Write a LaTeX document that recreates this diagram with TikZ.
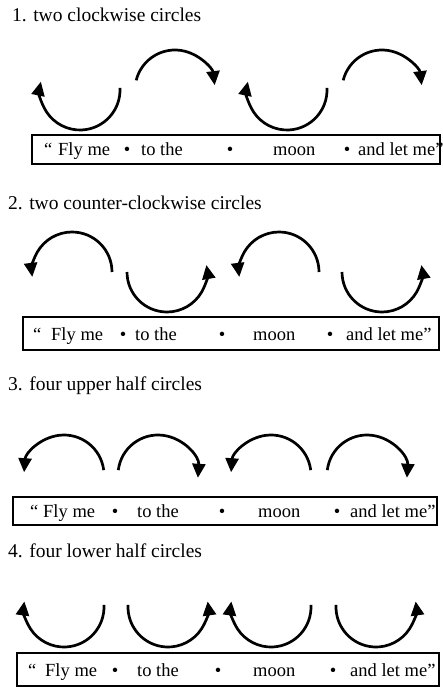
\documentclass[tikz,border=0pt]{standalone}
\usepackage{fontspec}
\setmainfont{Liberation Serif}
\usetikzlibrary{arrows.meta}
\begin{document}
\begin{tikzpicture}[x=1pt,y=-1pt,
  arw/.style={line width=2.7pt, -{Triangle[length=14pt,width=13pt]}},
  frame/.style={draw, line width=1.1pt},
  ttl/.style={anchor=base west, inner sep=0pt, font=\fontsize{19.5}{23}\selectfont},
  word/.style={anchor=base west, inner sep=0pt, font=\fontsize{18.5}{22}\selectfont},
  dot/.style={anchor=base, inner sep=0pt, font=\fontsize{18.5}{22}\selectfont}]
\useasboundingbox (0,0) rectangle (442,687);
\newcommand\myarc[4]{\draw[arw] ([shift={(#3:40)}]#1,#2) arc[start angle=#3,end angle=#4,radius=40];}

% ---------- panel 1
\node[ttl] (t1) at (12,22) {1. two clockwise circles};
\myarc{80}{90}{-3}{192}
\myarc{175}{90}{194}{353}
\myarc{287}{90}{-3}{192}
\myarc{382}{90}{194}{353}
\draw[frame] (32,135) rectangle (440,164);
\node[word] (a1) at (44,156) {“};
\node[word] (b1) at (58,156) {Fly me};
\node[dot]  (c1) at (127,156) {•};
\node[word] (d1) at (141,156) {to the};
\node[dot]  (e1) at (230,156) {•};
\node[word] (f1) at (273,156) {moon};
\node[dot]  (g1) at (347,156) {•};
\node[word] (h1) at (358,156) {and let me”};

% ---------- panel 2
\node[ttl] (t2) at (8,209) {2. two counter-clockwise circles};
\myarc{72}{272}{360}{173}
\myarc{167}{272}{180}{-10}
\myarc{279}{272}{360}{173}
\myarc{382}{272}{180}{-10}
\draw[frame] (23,317) rectangle (439,350);
\node[word] (a2) at (33,340) {“};
\node[word] (b2) at (51,340) {Fly me};
\node[dot]  (c2) at (123,340) {•};
\node[word] (d2) at (135,340) {to the};
\node[dot]  (e2) at (222,340) {•};
\node[word] (f2) at (253,340) {moon};
\node[dot]  (g2) at (330,340) {•};
\node[word] (h2) at (346,340) {and let me”};

% ---------- panel 3
\node[ttl] (t3) at (8,390) {3. four upper half circles};
\myarc{64}{475}{353}{184}
\myarc{158}{475}{187}{364}
\myarc{271}{475}{353}{184}
\myarc{367}{475}{187}{364}
\draw[frame] (13,497) rectangle (437,525);
\node[word] (a3) at (30,517) {“};
\node[word] (b3) at (43,517) {Fly me};
\node[dot]  (c3) at (115,517) {•};
\node[word] (d3) at (137,517) {to the};
\node[dot]  (e3) at (222,517) {•};
\node[word] (f3) at (258,517) {moon};
\node[dot]  (g3) at (337,517) {•};
\node[word] (h3) at (350,517) {and let me”};

% ---------- panel 4
\node[ttl] (t4) at (8,557) {4. four lower half circles};
\myarc{64}{607}{-3}{188}
\myarc{168}{607}{183}{-8}
\myarc{271}{607}{-3}{188}
\myarc{376}{607}{183}{-8}
\draw[frame] (17,653) rectangle (439,686);
\node[word] (a4) at (28,676) {“};
\node[word] (b4) at (45,676) {Fly me};
\node[dot]  (c4) at (115,676) {•};
\node[word] (d4) at (137,676) {to the};
\node[dot]  (e4) at (218,676) {•};
\node[word] (f4) at (253,676) {moon};
\node[dot]  (g4) at (333,676) {•};
\node[word] (h4) at (350,676) {and let me”};
\end{tikzpicture}
\end{document}
